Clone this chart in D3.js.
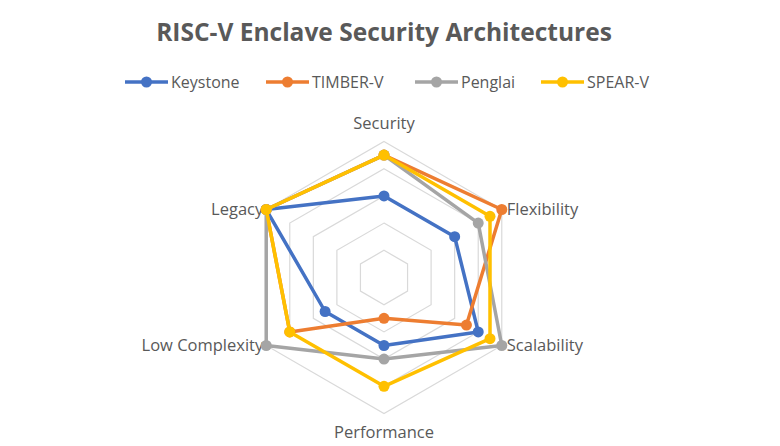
<!DOCTYPE html>
<html>
<head>
<meta charset="utf-8">
<script src="https://cdn.jsdelivr.net/npm/d3@7"></script>
<style>
  body { margin: 0; background: #fff; }
  text { font-family: "Open Sans", Lato, sans-serif; fill: #595959; }
</style>
</head>
<body>
<div id="chart"></div>
<script>
// axes of the radar, clockwise from the top
const axes = ["Security", "Flexibility", "Scalability", "Performance", "Low Complexity", "Legacy"]
const seriesNames = ["Keystone", "TIMBER-V", "Penglai", "SPEAR-V"]
const seriesColors = ["#4472C4", "#ED7D31", "#A5A5A5", "#FFC000"]

// scores, same order as axes
const keystone = [3, 3, 4, 2.5, 2.5, 5]
const timberV = [4.5, 5, 3.5, 1.5, 4, 5]
const penglai = [4.5, 4, 5, 3, 5, 5]
const spearV = [4.5, 4.5, 4.5, 4, 4, 5]
const ringLevels = [1, 2, 3, 4, 5]

const width = 780
const height = 446
const cx = 384, cy = 277.5

let svg = d3.select("#chart").append("svg")
  .attr("width", width)
  .attr("height", height)

let r = d3.scaleLinear().domain([0, 5]).range([0, 136])
let angle = d3.scaleLinear().domain([0, axes.length]).range([0, 2 * Math.PI])

let g = svg.append("g").attr("transform", "translate(" + cx + "," + cy + ")")

// hexagon grid rings
let ringLine = d3.lineRadial()
  .angle((d, i) => angle(i))
  .radius(d => r(d))
  .curve(d3.curveLinearClosed)

g.append("g").selectAll("path")
  .data(ringLevels)
  .enter().append("path")
    .attr("d", lv => ringLine(axes.map(() => lv)))
    .attr("fill", "none")
    .attr("stroke", "#d9d9d9")
    .attr("stroke-width", 1.2)

// axis labels
function px(i, v) { return r(v) * Math.sin(angle(i)) }
function py(i, v) { return -r(v) * Math.cos(angle(i)) }

let labelPos = [
  { dx: 0, dy: -18, anchor: "middle" },
  { dx: 5, dy: 0, anchor: "start" },
  { dx: 5, dy: 0, anchor: "start" },
  { dx: 0, dy: 19, anchor: "middle" },
  { dx: -3, dy: 0, anchor: "end" },
  { dx: -3, dy: 0, anchor: "end" }
]

g.append("g").selectAll("text")
  .data(axes)
  .enter().append("text")
    .attr("x", (d, i) => px(i, 5) + labelPos[i].dx)
    .attr("y", (d, i) => py(i, 5) + labelPos[i].dy)
    .attr("dy", "0.35em")
    .attr("text-anchor", (d, i) => labelPos[i].anchor)
    .style("font-size", "16.5px")
    .text(d => d)

// series lines + markers
let series = [keystone, timberV, penglai, spearV].map((vals, k) => ({
  name: seriesNames[k], color: seriesColors[k], values: vals
}))

let seriesLine = d3.lineRadial()
  .angle((d, i) => angle(i))
  .radius(d => r(d))
  .curve(d3.curveLinearClosed)

let sg = g.append("g").selectAll("g")
  .data(series)
  .enter().append("g")

sg.append("path")
  .attr("d", d => seriesLine(d.values))
  .attr("fill", "none")
  .attr("stroke", d => d.color)
  .attr("stroke-width", 3.5)
  .attr("stroke-linejoin", "round")

sg.selectAll("circle")
  .data(d => d.values.map(v => ({ v: v, color: d.color })))
  .enter().append("circle")
    .attr("cx", (d, i) => px(i, d.v))
    .attr("cy", (d, i) => py(i, d.v))
    .attr("r", 5.5)
    .attr("fill", d => d.color)

// title
svg.append("text")
  .attr("x", 384)
  .attr("y", 41)
  .attr("text-anchor", "middle")
  .style("font-size", "24.5px")
  .style("font-weight", "bold")
  .text("RISC-V Enclave Security Architectures")

// legend
let legendX = [125, 266, 415, 541]
let legend = svg.append("g").selectAll("g")
  .data(series)
  .enter().append("g")
    .attr("transform", (d, i) => "translate(" + legendX[i] + ",82)")

legend.append("line")
  .attr("x1", 0).attr("x2", 43)
  .attr("stroke", d => d.color)
  .attr("stroke-width", 3.5)

legend.append("circle")
  .attr("cx", 21.5)
  .attr("r", 5.5)
  .attr("fill", d => d.color)

legend.append("text")
  .attr("x", 46)
  .attr("dy", "0.35em")
  .style("font-size", "16px")
  .text(d => d.name)
</script>
</body>
</html>
